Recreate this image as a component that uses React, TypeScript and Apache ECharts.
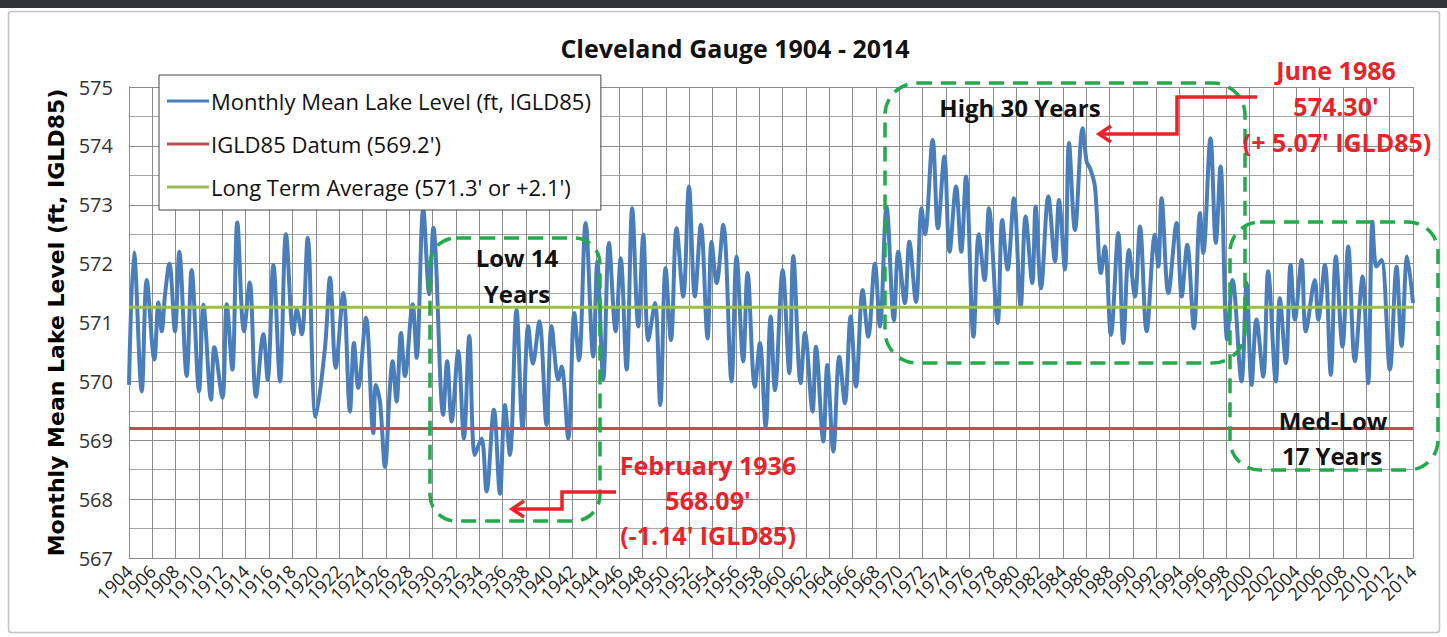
import React, { useEffect, useRef } from "react";
import * as echarts from "echarts";

// Monthly mean lake level, Cleveland gauge (seasonal peaks / troughs)
const years: number[] = [
  1904.0, 1904.43, 1905.09, 1905.52, 1906.17, 1906.52, 1906.8, 1907.09, 1907.46, 1907.94,
  1908.31, 1908.94, 1909.37, 1910.0, 1910.37, 1911.03, 1911.31, 1912.0, 1912.37, 1912.85,
  1913.28, 1913.85, 1914.34, 1914.88, 1915.51, 1915.88, 1916.37, 1916.94, 1917.45, 1918.08,
  1918.37, 1918.8, 1919.31, 1920.0, 1920.79, 1921.22, 1921.71, 1922.36, 1922.93, 1923.27,
  1923.64, 1924.3, 1924.93, 1925.15, 1925.5, 1925.93, 1926.35, 1926.58, 1926.92, 1927.3,
  1927.64, 1928.3, 1928.64, 1929.21, 1929.72, 1930.07, 1930.92, 1931.26, 1931.64, 1932.2,
  1932.69, 1933.15, 1933.63, 1934.2, 1934.63, 1935.26, 1935.78, 1936.2, 1936.63, 1937.2,
  1937.72, 1938.2, 1938.6, 1939.15, 1939.77, 1940.2, 1940.78, 1941.06, 1941.63, 1942.15, 1942.55,
  1943.12, 1943.77, 1944.12, 1944.63, 1945.12, 1945.69, 1946.12, 1946.63, 1947.11, 1947.63,
  1948.06, 1948.49, 1949.06, 1949.51, 1949.97, 1950.43, 1950.91, 1951.48, 1951.97, 1952.48,
  1952.99, 1953.57, 1953.91, 1954.34, 1954.91, 1955.62, 1956.05, 1956.62, 1956.99, 1957.62,
  1958.05, 1958.54, 1958.97, 1959.34, 1960.0, 1960.57, 1960.91, 1961.54, 1961.91, 1962.56,
  1962.85, 1963.48, 1963.82, 1964.34, 1964.85, 1965.33, 1965.82, 1966.28, 1966.85, 1967.33,
  1967.9, 1968.33, 1968.9, 1969.53, 1969.9, 1970.47, 1970.85, 1971.42, 1971.9, 1972.19,
  1972.85, 1973.3, 1973.85, 1974.3, 1974.85, 1975.3, 1975.7, 1976.35, 1976.8, 1977.3,
  1977.67, 1978.42, 1978.81, 1979.27, 1979.81, 1980.39, 1980.81, 1981.38, 1981.67, 1982.13,
  1982.76, 1983.33, 1983.67, 1984.18, 1984.53, 1985.04, 1985.7, 1986.04, 1986.33, 1986.75,
  1987.27, 1987.6, 1988.12, 1988.75, 1989.18, 1989.67, 1990.18, 1990.61, 1991.18, 1991.89,
  1992.18, 1992.46, 1993.04, 1993.75, 1994.18, 1994.66, 1995.23, 1995.75, 1996.03, 1996.65,
  1997.11, 1997.51, 1998.08, 1998.54, 1999.31, 1999.74, 2000.17, 2000.59, 2001.17, 2001.59,
  2002.25, 2002.59, 2003.11, 2003.51, 2003.88, 2004.45, 2004.82, 2005.59, 2005.88, 2006.45,
  2006.96, 2007.39, 2007.96, 2008.45, 2009.02, 2009.68, 2010.16, 2010.53, 2010.87, 2011.3,
  2012.02, 2012.59, 2013.02, 2013.5, 2014.0,
];

const levels: number[] = [
  569.94, 572.19, 569.83, 571.72, 570.37, 571.34, 570.85, 571.48, 572.0, 570.85,
  572.2, 570.09, 571.89, 569.83, 571.3, 569.69, 570.58, 569.72, 571.31, 570.2,
  572.7, 570.85, 571.68, 569.74, 570.8, 570.03, 571.98, 570.0, 572.5, 570.8,
  571.22, 570.8, 572.44, 569.4, 570.57, 571.76, 570.23, 571.5, 569.49, 570.65,
  569.89, 571.08, 569.12, 569.94, 569.66, 568.55, 569.89, 570.34, 569.66, 570.82,
  570.09, 571.31, 570.4, 572.93, 571.48, 572.61, 569.43, 570.34, 569.32, 570.51,
  569.03, 570.77, 568.75, 569.03, 568.13, 569.52, 568.09, 569.6, 568.75, 571.22,
  569.2, 570.94, 570.3, 571.02, 569.26, 570.94, 570.03, 570.25, 569.03, 571.16, 570.36,
  572.69, 570.42, 572.03, 570.03, 572.35, 570.85, 572.09, 570.2, 572.94, 570.93,
  572.49, 570.7, 571.33, 569.6, 571.92, 570.7, 572.6, 571.44, 573.31, 571.44,
  572.66, 570.73, 572.37, 571.67, 572.66, 570.0, 572.12, 570.34, 571.84, 569.91,
  570.65, 569.23, 571.1, 569.85, 571.89, 570.14, 572.13, 569.97, 570.82, 569.49,
  570.59, 568.98, 570.28, 568.81, 570.42, 569.63, 571.1, 569.91, 571.55, 570.76,
  572.0, 570.93, 572.97, 571.04, 572.2, 571.33, 572.37, 571.35, 572.94, 572.5,
  574.1, 572.6, 573.82, 572.2, 573.31, 572.2, 573.48, 570.76, 572.5, 571.72,
  572.94, 570.99, 572.74, 571.9, 573.11, 571.27, 572.8, 571.67, 572.97, 571.58,
  573.14, 572.04, 573.08, 571.9, 574.05, 572.57, 574.3, 573.73, 573.62, 573.31,
  571.84, 572.29, 570.79, 572.52, 570.65, 572.23, 571.44, 572.63, 570.85, 572.49,
  571.95, 573.11, 571.5, 572.69, 571.44, 572.32, 570.9, 572.86, 572.18, 574.13,
  572.35, 573.65, 570.71, 571.72, 570.0, 571.67, 569.94, 571.05, 570.08, 571.87,
  570.0, 571.41, 570.31, 571.98, 571.05, 572.06, 570.85, 571.72, 571.05, 571.98,
  570.11, 572.12, 570.59, 572.29, 570.34, 571.78, 569.97, 572.71, 571.95, 572.06,
  570.2, 571.95, 570.6, 572.12, 571.33,
];

const datumLevel = 569.2;
const averageLevel = 571.26;
const xRange = [1904, 2014];
const yRange = [567, 575];

const seriesNames = [
  "Monthly Mean Lake Level (ft, IGLD85)",
  "IGLD85 Datum (569.2')",
  "Long Term Average (571.3' or +2.1')",
];

const GREEN = "#22ab4a";
const RED = "#e8232a";
const FONT = '"Open Sans", "Liberation Sans", sans-serif';

function dashedBox(x: number, y: number, w: number, h: number, r: number) {
  return {
    type: "rect",
    z: 100,
    silent: true,
    shape: { x, y, width: w, height: h, r },
    style: { fill: "none", stroke: GREEN, lineWidth: 3.5, lineDash: [15, 9] },
  };
}

function label(text: string, x: number, y: number, color: string, size = 24) {
  return {
    type: "text",
    z: 101,
    silent: true,
    style: {
      text,
      x,
      y,
      fill: color,
      font: `bold ${size}px ${FONT}`,
      textAlign: "center",
      textVerticalAlign: "middle",
    },
  };
}

function arrow(points: number[][]) {
  const tip = points[points.length - 1];
  return [
    {
      type: "polyline",
      z: 101,
      silent: true,
      shape: { points },
      style: { fill: "none", stroke: RED, lineWidth: 3.5 },
    },
    {
      type: "polyline",
      z: 101,
      silent: true,
      shape: {
        points: [
          [tip[0] + 12, tip[1] - 8],
          [tip[0], tip[1]],
          [tip[0] + 12, tip[1] + 8],
        ],
      },
      style: { fill: "none", stroke: RED, lineWidth: 3.5 },
    },
  ];
}

const xLabelStyle = {
  rotate: 45,
  margin: 10,
  fontFamily: FONT,
  fontSize: 18,
  color: "#222",
};

export default function App() {
  const ref = useRef<HTMLDivElement>(null);

  useEffect(() => {
    if (!ref.current) return;
    const chart = echarts.init(ref.current, null, { renderer: "svg" });
    const lake = years.map((y, i) => [y, levels[i]]);
    const isEnd = (v: number) => v === xRange[0] || v === xRange[1];

    chart.setOption({
      animation: false,
      backgroundColor: "#ffffff",
      title: {
        text: "Cleveland Gauge 1904 - 2014",
        left: 730,
        textAlign: "center",
        top: 30,
        textStyle: { fontFamily: FONT, fontWeight: "bold", fontSize: 25, color: "#111" },
      },
      legend: {
        orient: "vertical",
        left: 159,
        top: 75,
        data: seriesNames,
        icon: "rect",
        itemWidth: 42,
        itemHeight: 3,
        itemGap: 13,
        padding: [11, 10, 8, 8],
        backgroundColor: "#ffffff",
        borderColor: "#444",
        borderWidth: 1,
        textStyle: {
          fontFamily: FONT,
          fontSize: 22,
          color: "#111",
          lineHeight: 30,
          padding: [0, 0, 0, -3],
        },
      },
      grid: { left: 129, right: 34, top: 87, bottom: 79, containLabel: false },
      xAxis: [
        {
          type: "value",
          min: xRange[0],
          max: xRange[1],
          interval: 2,
          position: "bottom",
          axisLine: { show: true, lineStyle: { color: "#8c8c8c" } },
          axisTick: { show: false },
          splitLine: { show: true, lineStyle: { color: "#8c8c8c", width: 1 } },
          axisLabel: {
            ...xLabelStyle,
            formatter: (v: number) => (isEnd(v) ? "" : String(v)),
          },
        },
        {
          type: "value",
          min: xRange[0],
          max: xRange[1],
          interval: 2,
          position: "bottom",
          offset: 0,
          axisLine: { show: false },
          axisTick: { show: false },
          splitLine: { show: false },
          axisLabel: {
            ...xLabelStyle,
            showMinLabel: true,
            showMaxLabel: true,
            formatter: (v: number) => (isEnd(v) ? String(v) : ""),
          },
        },
      ],
      yAxis: {
        type: "value",
        min: yRange[0],
        max: yRange[1],
        interval: 1,
        name: "Monthly Mean Lake Level (ft, IGLD85)",
        nameLocation: "middle",
        nameGap: 62,
        nameTextStyle: {
          fontFamily: '"DejaVu Sans", sans-serif',
          fontWeight: "bold",
          fontSize: 22,
          color: "#000",
        },
        axisLine: { show: true, lineStyle: { color: "#8c8c8c" } },
        axisTick: { show: false },
        minorTick: { show: false, splitNumber: 2 },
        splitLine: { show: true, lineStyle: { color: "#8c8c8c", width: 1 } },
        minorSplitLine: { show: true, lineStyle: { color: "#a6a6a6", width: 1 } },
        axisLabel: { fontFamily: FONT, fontSize: 20, color: "#333", margin: 16 },
      },
      series: [
        {
          name: seriesNames[0],
          type: "line",
          xAxisIndex: 0,
          data: lake,
          smooth: 0.35,
          symbol: "none",
          lineStyle: { color: "#4a7ebb", width: 4 },
          itemStyle: { color: "#4a7ebb" },
          z: 2,
        },
        {
          name: seriesNames[1],
          type: "line",
          xAxisIndex: 0,
          data: [
            [xRange[0], datumLevel],
            [xRange[1], datumLevel],
          ],
          symbol: "none",
          lineStyle: { color: "#c0504d", width: 3 },
          itemStyle: { color: "#c0504d" },
          z: 3,
        },
        {
          name: seriesNames[2],
          type: "line",
          xAxisIndex: 0,
          data: [
            [xRange[0], averageLevel],
            [xRange[1], averageLevel],
          ],
          symbol: "none",
          lineStyle: { color: "#9bbb59", width: 3 },
          itemStyle: { color: "#9bbb59" },
          z: 3,
        },
      ],
      graphic: [
        {
          type: "rect",
          z: -10,
          silent: true,
          shape: { x: 0, y: 0, width: 1447, height: 8 },
          style: { fill: "#2f3439" },
        },
        {
          type: "rect",
          z: -10,
          silent: true,
          shape: { x: 8.5, y: 11.5, width: 1431, height: 621, r: 3 },
          style: { fill: "none", stroke: "#c4c4c4", lineWidth: 1.5 },
        },
        dashedBox(885, 83, 360, 280, 32),
        dashedBox(430, 238, 170, 283, 26),
        dashedBox(1230, 222, 208, 248, 30),
        label("High 30 Years", 1020, 107, "#111"),
        label("Low 14", 517, 257, "#111"),
        label("Years", 517, 293, "#111"),
        label("Med-Low", 1333, 420, "#111"),
        label("17 Years", 1332, 455, "#111"),
        label("June 1986", 1336, 70, RED, 25),
        label("574.30'", 1336, 106, RED, 25),
        label("(+ 5.07' IGLD85)", 1337, 142, RED, 25),
        label("February 1936", 708, 465, RED, 25),
        label("568.09'", 708, 500, RED, 25),
        label("(-1.14' IGLD85)", 708, 535, RED, 25),
        ...arrow([
          [1257, 97],
          [1177, 97],
          [1177, 134],
          [1099, 134],
        ]),
        ...arrow([
          [616, 492],
          [562, 492],
          [562, 509],
          [512, 509],
        ]),
      ],
    });

    return () => chart.dispose();
  }, []);

  return (
    <div
      ref={ref}
      style={{ position: "absolute", left: 0, top: 0, width: 1447, height: 637 }}
    />
  );
}
